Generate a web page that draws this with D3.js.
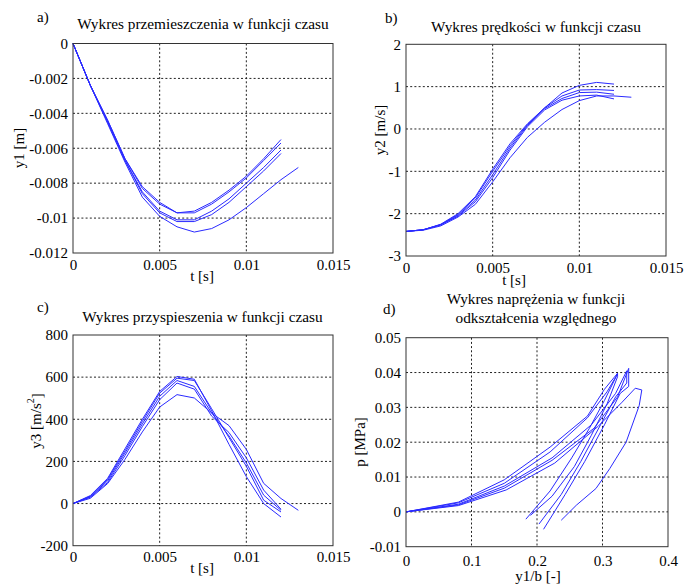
<!DOCTYPE html>
<html>
<head>
<meta charset="utf-8">
<script src="https://cdn.jsdelivr.net/npm/d3@7"></script>
<style>
body { margin: 0; background: #fff; }
svg text { font-family: "Liberation Serif", "Times New Roman", serif; font-size: 15px; fill: #000; }
svg text.title { font-size: 15.3px; }
</style>
</head>
<body>
<div id="chart"></div>
<script>
// time samples [s]
const tSteps = [0, 0.001, 0.002, 0.003, 0.004, 0.005, 0.006, 0.007, 0.008, 0.009, 0.010, 0.011, 0.012, 0.013];

// a) displacement y1 [m]
const y1A = [0, -0.0024, -0.0044, -0.0066, -0.0082, -0.0091, -0.0097, -0.0096, -0.0091, -0.0084, -0.0076, -0.0066, -0.0055];
const y1B = [0, -0.0024, -0.0044, -0.0066, -0.0083, -0.0092, -0.0097, -0.0097, -0.0092, -0.0085, -0.0077, -0.0067, -0.0057];
const y1C = [0, -0.0024, -0.0045, -0.0067, -0.0085, -0.0096, -0.0101, -0.0101, -0.0096, -0.0089, -0.0080, -0.0071, -0.0061];
const y1D = [0, -0.0024, -0.0045, -0.0067, -0.0086, -0.0097, -0.0102, -0.0102, -0.0098, -0.0091, -0.0082, -0.0073, -0.0063];
const y1E = [0, -0.0024, -0.0046, -0.0068, -0.0088, -0.0099, -0.0105, -0.0108, -0.0106, -0.0101, -0.0094, -0.0086, -0.0078, -0.0071];

// b) velocity y2 [m/s]
const y2A = [-2.42, -2.38, -2.25, -2.0, -1.6, -0.95, -0.35, 0.12, 0.5, 0.85, 1.03, 1.1, 1.06];
const y2B = [-2.42, -2.38, -2.26, -2.02, -1.63, -1.0, -0.4, 0.1, 0.5, 0.78, 0.92, 0.93, 0.91];
const y2C = [-2.42, -2.38, -2.26, -2.04, -1.68, -1.08, -0.45, 0.08, 0.48, 0.72, 0.86, 0.87, 0.82];
const y2D = [-2.42, -2.38, -2.27, -2.06, -1.72, -1.15, -0.5, 0.05, 0.45, 0.68, 0.78, 0.8, 0.71];
const y2E = [-2.42, -2.39, -2.29, -2.08, -1.78, -1.25, -0.68, -0.2, 0.16, 0.46, 0.67, 0.78, 0.78, 0.75];

// c) acceleration y3 [m/s^2]
const y3A = [0, 38, 120, 260, 400, 532, 603, 590, 440, 281, 128, 0, -64];
const y3B = [0, 35, 115, 250, 390, 524, 595, 584, 450, 313, 177, 16, -40];
const y3C = [0, 32, 108, 240, 378, 509, 584, 556, 430, 321, 193, 40, -32];
const y3D = [0, 30, 100, 228, 365, 493, 572, 543, 415, 337, 217, 64, -27];
const y3E = [0, 25, 95, 210, 340, 458, 517, 501, 430, 370, 257, 96, 24, -32];

// d) stress p [MPa] vs strain y1/b [-]
const strainA = [0, 0.08, 0.15, 0.22, 0.277, 0.303, 0.323, 0.32, 0.303, 0.28, 0.253, 0.22, 0.183];
const stressA = [0, 0.0028, 0.0092, 0.0186, 0.0275, 0.0352, 0.0398, 0.0385, 0.032, 0.024, 0.0155, 0.006, -0.0021];
const strainB = [0, 0.08, 0.15, 0.22, 0.277, 0.307, 0.323, 0.323, 0.307, 0.283, 0.257, 0.223, 0.19];
const stressB = [0, 0.0026, 0.0082, 0.0172, 0.027, 0.0345, 0.0396, 0.0388, 0.031, 0.022, 0.013, 0.0045, -0.001];
const strainC = [0, 0.08, 0.15, 0.223, 0.283, 0.32, 0.337, 0.337, 0.32, 0.297, 0.267, 0.237, 0.203];
const stressC = [0, 0.0022, 0.0074, 0.0155, 0.025, 0.034, 0.0405, 0.037, 0.033, 0.025, 0.0145, 0.005, -0.0035];
const strainD = [0, 0.08, 0.15, 0.223, 0.287, 0.323, 0.34, 0.34, 0.327, 0.303, 0.273, 0.243, 0.21];
const stressD = [0, 0.002, 0.0068, 0.0148, 0.024, 0.033, 0.0412, 0.036, 0.034, 0.025, 0.0145, 0.005, -0.005];
const strainE = [0, 0.08, 0.153, 0.227, 0.293, 0.33, 0.35, 0.36, 0.356, 0.336, 0.311, 0.29, 0.26, 0.237];
const stressE = [0, 0.0018, 0.0063, 0.014, 0.0245, 0.0315, 0.0355, 0.035, 0.0305, 0.020, 0.0124, 0.0067, 0.0019, -0.0024];

// tick values
const tTicks = [0, 0.005, 0.01, 0.015];
const y1Ticks = [-0.012, -0.01, -0.008, -0.006, -0.004, -0.002, 0];
const y2Ticks = [-3, -2, -1, 0, 1, 2];
const y3Ticks = [-200, 0, 200, 400, 600, 800];
const strainTicks = [0, 0.1, 0.2, 0.3, 0.4];
const stressTicks = [-0.01, 0, 0.01, 0.02, 0.03, 0.04, 0.05];

const svg = d3.select("#chart").append("svg")
      .attr("width", 685)
      .attr("height", 584);

const fmt = d => String(Math.round(d * 1e6) / 1e6);
const zip = (xs, ys) => ys.map((v, i) => [xs[i], v]);

function panel(o){
      const g = svg.append("g")
            .attr("transform", "translate(" + o.left + "," + o.top + ")");

      const x = d3.scaleLinear().domain(d3.extent(o.xTicks)).range([0, o.width]);
      const y = d3.scaleLinear().domain(d3.extent(o.yTicks)).range([o.height, 0]);

      // dotted grid
      g.append("g").selectAll("line").data(o.xTicks.slice(1, -1)).join("line")
            .attr("x1", d => x(d)).attr("x2", d => x(d))
            .attr("y1", 0).attr("y2", o.height)
            .attr("stroke", "#222").attr("stroke-dasharray", "2,2.2");
      g.append("g").selectAll("line").data(o.yTicks.slice(1, -1)).join("line")
            .attr("y1", d => y(d)).attr("y2", d => y(d))
            .attr("x1", 0).attr("x2", o.width)
            .attr("stroke", "#222").attr("stroke-dasharray", "2,2.2");

      // axes
      g.append("g")
            .attr("transform", "translate(0," + o.height + ")")
            .call(d3.axisBottom(x).tickValues(o.xTicks).tickSize(0).tickPadding(o.xPad).tickFormat(fmt))
            .call(a => a.select(".domain").remove());
      g.append("g")
            .call(d3.axisLeft(y).tickValues(o.yTicks).tickSize(0).tickPadding(5).tickFormat(fmt))
            .call(a => a.select(".domain").remove());

      // curves
      const line = d3.line().x(d => x(d[0])).y(d => y(d[1]));
      g.append("g").selectAll("path").data(o.series).join("path")
            .attr("d", line)
            .attr("fill", "none")
            .attr("stroke", "#2a2aff")
            .attr("stroke-width", 1);

      // box
      g.append("rect")
            .attr("width", o.width).attr("height", o.height)
            .attr("fill", "none").attr("stroke", "#333");

      // titles and labels
      o.title.forEach((s, i) => {
            svg.append("text").attr("class", "title")
                  .attr("x", o.titleX).attr("y", o.titleY + i * 19)
                  .attr("text-anchor", "middle").text(s);
      });
      svg.append("text").attr("x", o.letterX).attr("y", o.letterY).text(o.letter);
      svg.append("text").attr("x", o.xLabelX).attr("y", o.xLabelY)
            .attr("text-anchor", "middle").text(o.xLabel);
      const yl = svg.append("text")
            .attr("transform", "translate(" + o.yLabelX + "," + o.yLabelY + ") rotate(-90)")
            .attr("text-anchor", "middle").attr("dy", "0.35em")
            .text(o.yLabel);
      if(o.yLabelSup){
            yl.append("tspan").attr("font-size", "10px").attr("dy", "-0.7em").text(o.yLabelSup);
            yl.append("tspan").attr("dy", "0.5em").text("]");
      }
}

panel({
      left: 73, top: 43.5, width: 260, height: 209.5, xPad: 6,
      xTicks: tTicks, yTicks: y1Ticks,
      series: [y1A, y1B, y1C, y1D, y1E].map(s => zip(tSteps, s)),
      title: ["Wykres przemieszczenia w funkcji czasu"], titleX: 203, titleY: 29,
      letter: "a)", letterX: 37, letterY: 22,
      xLabel: "t [s]", xLabelX: 202, xLabelY: 281,
      yLabel: "y1 [m]", yLabelX: 19, yLabelY: 148
});

panel({
      left: 406, top: 44.3, width: 260, height: 211.7, xPad: 6,
      xTicks: tTicks, yTicks: y2Ticks,
      series: [y2A, y2B, y2C, y2D, y2E].map(s => zip(tSteps, s)),
      title: ["Wykres prędkości w funkcji czasu"], titleX: 536, titleY: 32,
      letter: "b)", letterX: 385, letterY: 23,
      xLabel: "t [s]", xLabelX: 514, xLabelY: 285,
      yLabel: "y2 [m/s]", yLabelX: 380, yLabelY: 130
});

panel({
      left: 73, top: 335, width: 260, height: 210.7, xPad: 6,
      xTicks: tTicks, yTicks: y3Ticks,
      series: [y3A, y3B, y3C, y3D, y3E].map(s => zip(tSteps, s)),
      title: ["Wykres przyspieszenia w funkcji czasu"], titleX: 202.5, titleY: 322,
      letter: "c)", letterX: 37, letterY: 312,
      xLabel: "t [s]", xLabelX: 202, xLabelY: 573,
      yLabel: "y3 [m/s", yLabelSup: "2", yLabelX: 36, yLabelY: 421
});

panel({
      left: 406, top: 337.7, width: 262, height: 209, xPad: 9,
      xTicks: strainTicks, yTicks: stressTicks,
      series: [[strainA, stressA], [strainB, stressB], [strainC, stressC], [strainD, stressD], [strainE, stressE]]
            .map(p => zip(p[0], p[1])),
      title: ["Wykres naprężenia w funkcji", "odkształcenia względnego"], titleX: 536, titleY: 304,
      letter: "d)", letterX: 383, letterY: 314,
      xLabel: "y1/b [-]", xLabelX: 538, xLabelY: 581,
      yLabel: "p [MPa]", yLabelX: 360, yLabelY: 442
});
</script>
</body>
</html>
